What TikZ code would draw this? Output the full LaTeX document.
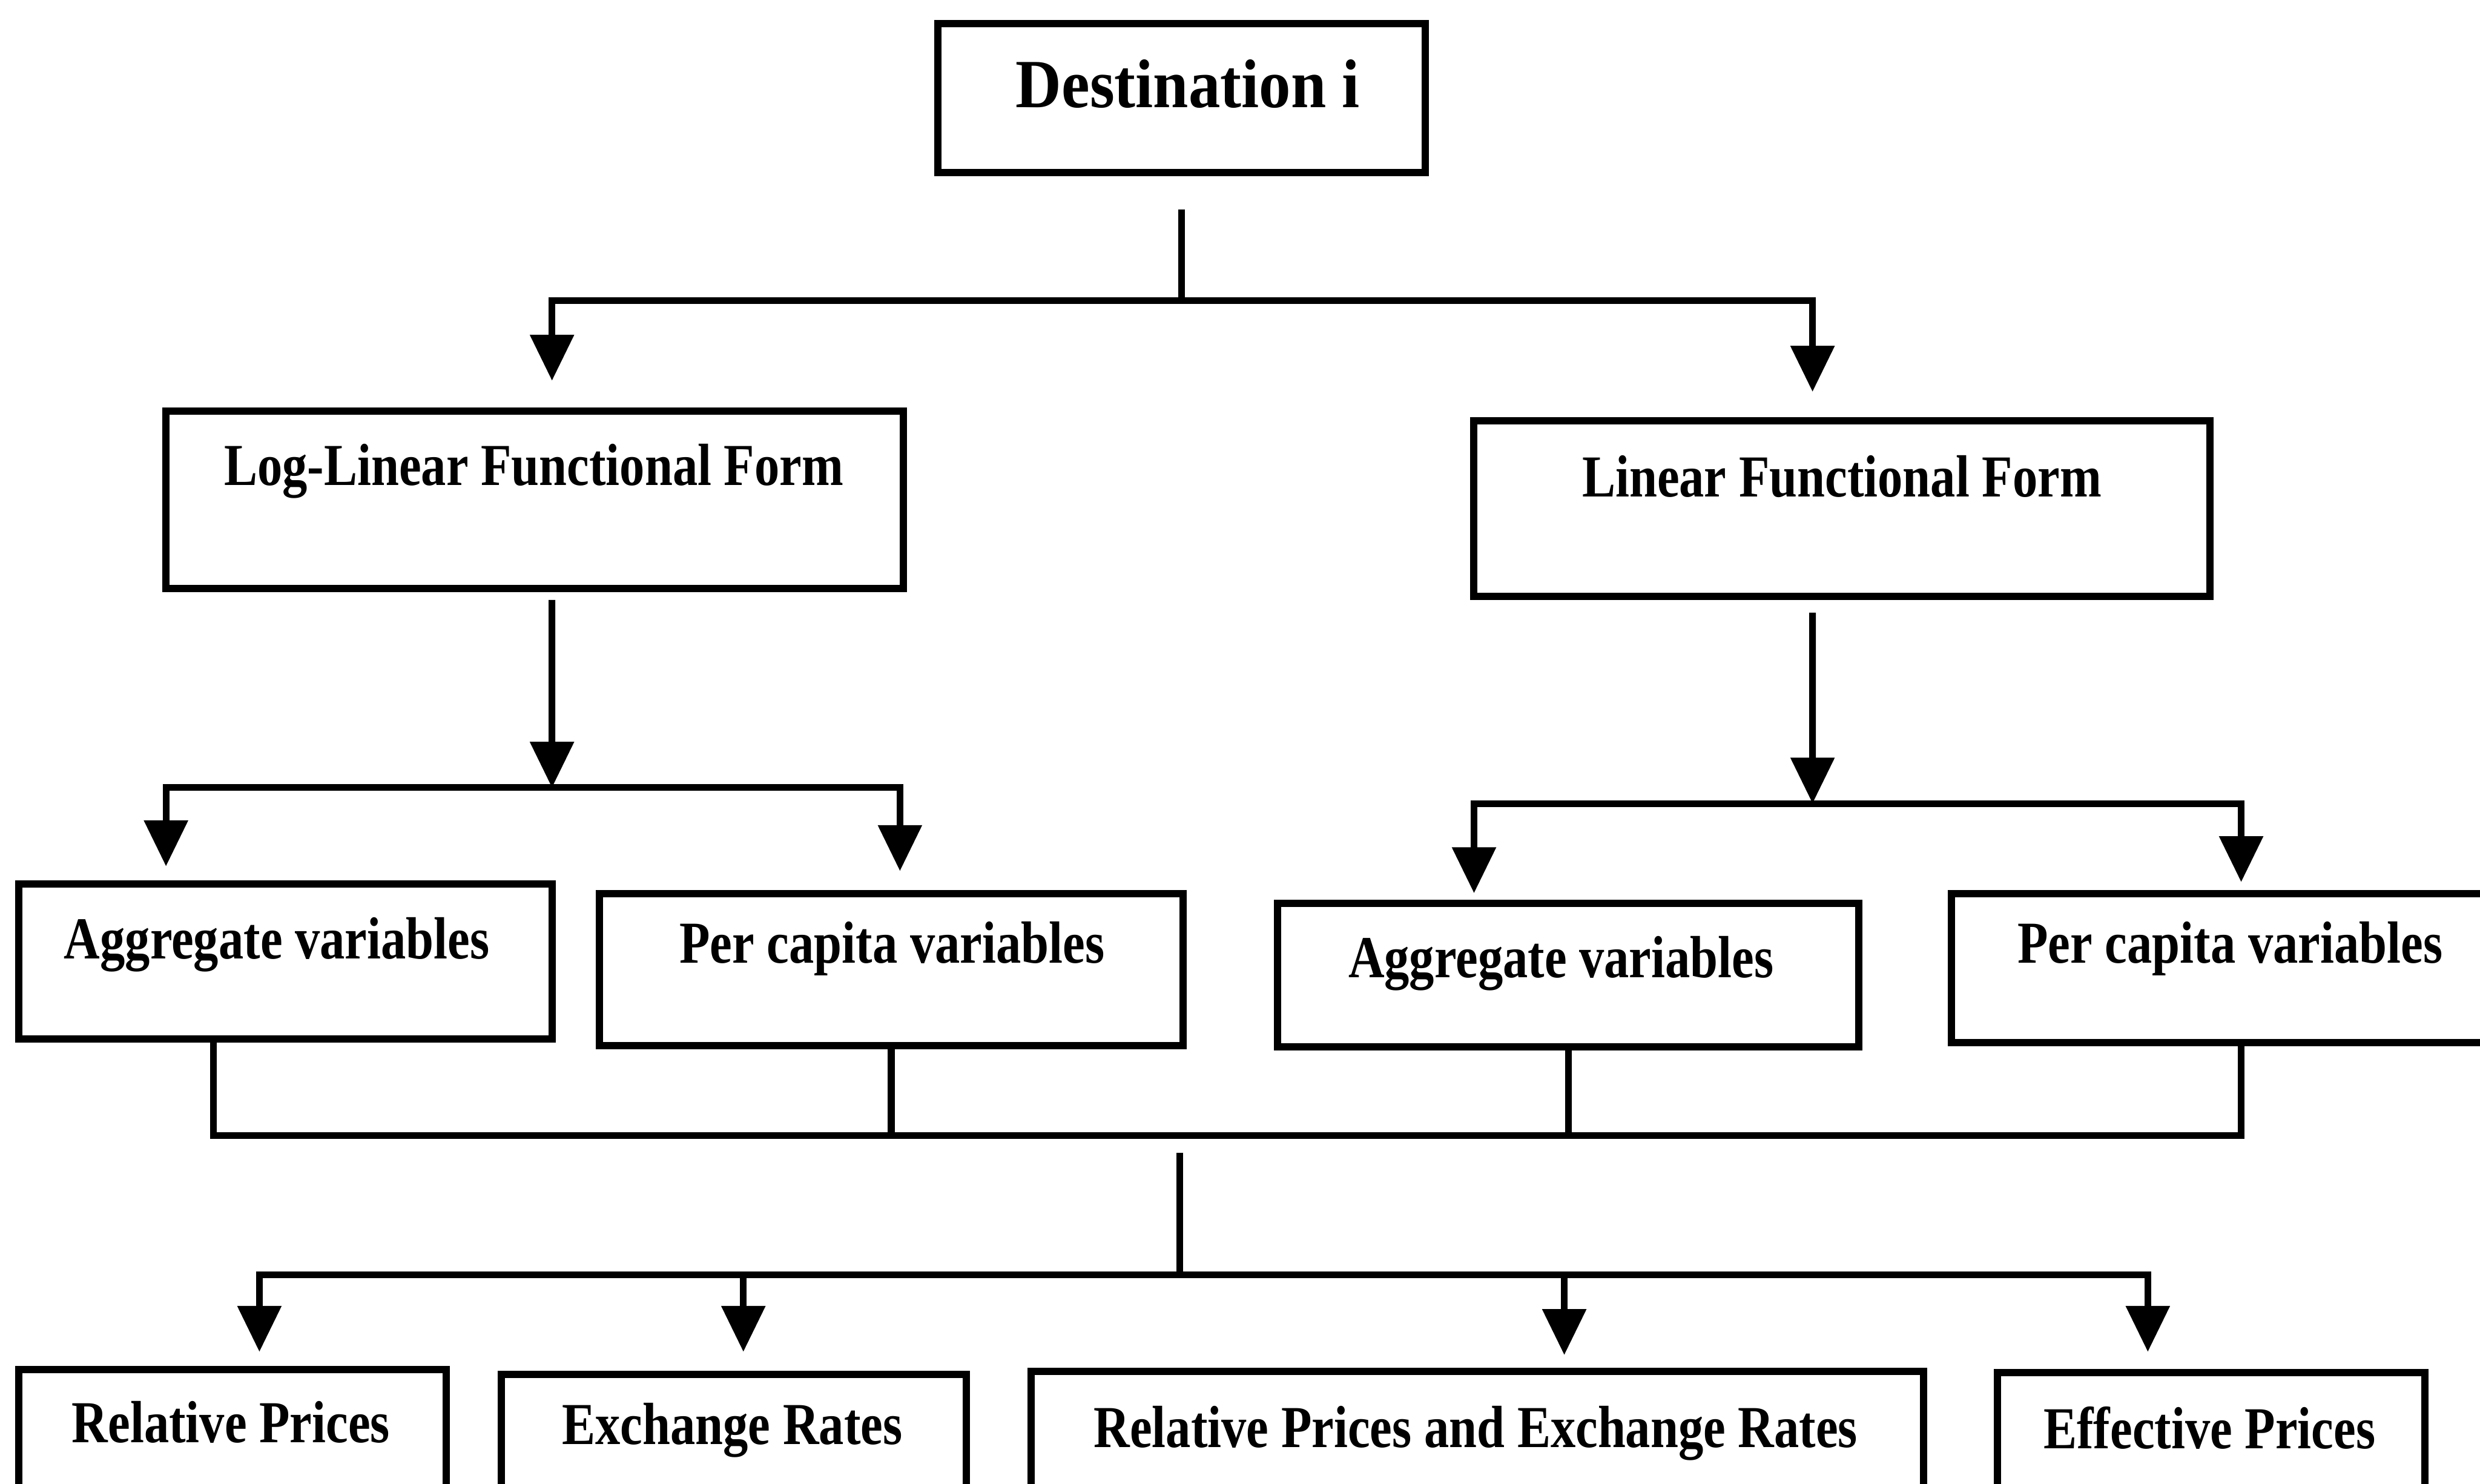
\documentclass[tikz,border=0pt]{standalone}
\usepackage{fontspec}
\usetikzlibrary{arrows.meta}
\newfontfamily\boxfont{Liberation Serif Bold}[FakeStretch=0.84]
\newfontfamily\destfont{Liberation Serif Bold}[FakeStretch=0.92]
\tikzset{
  boxnode/.style={draw, line width=1.3pt, rectangle, inner sep=0pt},
  lbl/.style={anchor=base, inner sep=0pt, font=\boxfont\fontsize{10.7}{12}\selectfont},
  ln/.style={line width=1.2pt},
  arr/.style={line width=1.2pt, -{Triangle[width=0.27cm,length=0.29cm]}},
}
\begin{document}
\begin{tikzpicture}[x=0.01cm,y=-0.01cm]
\useasboundingbox (0,0) rectangle (1568,938);
\clip (0,0) rectangle (1568,938);
% boxes
\node[boxnode, minimum width=3.08cm, minimum height=0.94cm] (dest) at (747,62) {};
\node[boxnode, minimum width=4.66cm, minimum height=1.12cm] (ll) at (338,316) {};
\node[boxnode, minimum width=4.65cm, minimum height=1.11cm] (lin) at (1164.5,321.5) {};
\node[boxnode, minimum width=3.37cm, minimum height=0.98cm] (agL) at (180.5,608) {};
\node[boxnode, minimum width=3.69cm, minimum height=0.96cm] (pcL) at (563.5,613) {};
\node[boxnode, minimum width=3.67cm, minimum height=0.91cm] (agR) at (991.5,616.5) {};
\node[boxnode, minimum width=3.56cm, minimum height=0.94cm] (pcR) at (1412,612) {};
\node[boxnode, minimum width=2.70cm, minimum height=1.24cm] (rp) at (147,928) {};
\node[boxnode, minimum width=2.94cm, minimum height=1.21cm] (er) at (464,929.5) {};
\node[boxnode, minimum width=5.64cm, minimum height=1.23cm] (rper) at (934,928.5) {};
\node[boxnode, minimum width=2.70cm, minimum height=1.22cm] (ep) at (1398,929) {};
% texts
\node[anchor=base, inner sep=0pt, font=\destfont\fontsize{12.4}{14}\selectfont] (tdest) at (751,68) {Destination i};
\node[lbl] (tll) at (337.5,307) {Log-Linear Functional Form};
\node[lbl] (tlin) at (1164.5,314) {Linear Functional Form};
\node[lbl] (tagL) at (175,606) {Aggregate variables};
\node[lbl] (tpcL) at (564,609) {Per capita variables};
\node[lbl] (tagR) at (987,618) {Aggregate variables};
\node[lbl] (tpcR) at (1410,609) {Per capita variables};
\node[lbl] (trp) at (146,912) {Relative Prices};
\node[lbl] (ter) at (463,913) {Exchange Rates};
\node[lbl] (trper) at (933,915) {Relative Prices and Exchange Rates};
\node[lbl] (tep) at (1397,916) {Effective Prices};
% junctions
\coordinate (j0) at (747,190);
\coordinate (j1) at (349,498);
\coordinate (j2) at (1146,508);
\coordinate (j3) at (746,718);
\coordinate (j4) at (746,806);
% level 1
\draw[ln] ([yshift=-0.21cm]dest.south) -- (j0);
\draw[arr] (j0) -| ([xshift=0.11cm,yshift=0.17cm]ll.north);
\draw[arr] (j0) -| ([xshift=-0.185cm,yshift=0.16cm]lin.north);
% level 2 left
\draw[arr] ([xshift=0.11cm,yshift=-0.05cm]ll.south) -- (j1);
\draw[arr] (j1) -| ([xshift=-0.755cm,yshift=0.09cm]agL.north);
\draw[arr] (j1) -| ([xshift=0.055cm,yshift=0.12cm]pcL.north);
% level 2 right
\draw[arr] ([xshift=-0.185cm,yshift=-0.08cm]lin.south) -- (j2);
\draw[arr] (j2) -| ([xshift=-0.595cm,yshift=0.04cm]agR.north);
\draw[arr] (j2) -| ([xshift=0.05cm,yshift=0.05cm]pcR.north);
% collector
\draw[ln] ([xshift=-0.455cm]agL.south) |- (j3);
\draw[ln] (pcL.south) |- (j3);
\draw[ln] (agR.south) |- (j3);
\draw[ln] ([xshift=0.05cm]pcR.south) |- (j3);
\draw[ln] ([yshift=-0.11cm]j3) -- (j4);
% level 3
\draw[arr] (j4) -| ([xshift=0.17cm,yshift=0.09cm]rp.north);
\draw[arr] (j4) -| ([xshift=0.06cm,yshift=0.12cm]er.north);
\draw[arr] (j4) -| ([xshift=0.55cm,yshift=0.08cm]rper.north);
\draw[arr] (j4) -| ([xshift=-0.40cm,yshift=0.11cm]ep.north);
\end{tikzpicture}
\end{document}
